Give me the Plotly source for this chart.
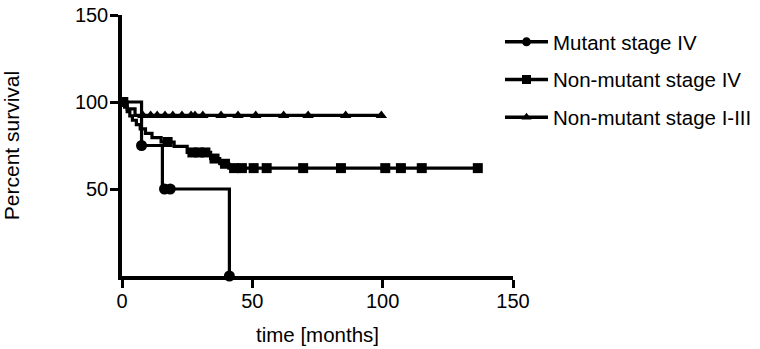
import plotly.graph_objects as go

# ---- data ----
series_names = ["Mutant stage IV", "Non-mutant stage IV", "Non-mutant stage I-III"]

# Mutant stage IV (step curve + censor marks)
mut_t = [0, 7.5, 15.5, 41.2]
mut_s = [100, 75, 50, 0]
mut_cens_t = [7.5, 16.3, 18.5, 41.2]
mut_cens_s = [75, 50, 50, 0]

# Non-mutant stage IV
nm4_t = [0, 1, 2, 3, 4, 5.5, 7, 9, 11.5, 15, 20, 25, 34, 37.5, 41, 137]
nm4_s = [100, 97, 94.5, 92, 89.5, 87, 84.5, 82, 79.5, 77, 74.5, 71, 67.5, 64.5, 62, 62]
nm4_cens_t = [0.5, 17.5, 27, 29.5, 32, 35.5, 39.5, 43, 46, 50.5, 55.5, 69.5, 84, 101, 107, 115, 136.5]
nm4_cens_s = [100, 77, 71, 71, 71, 67.5, 64.5, 62, 62, 62, 62, 62, 62, 62, 62, 62, 62]

# Non-mutant stage I-III
nm13_t = [0, 2, 5, 99.5]
nm13_s = [100, 96, 92.3, 92.3]
nm13_cens_t = [8, 11, 13.5, 16.5, 19.5, 23, 26.5, 28, 31, 38, 44.5, 51.3, 62, 71.4, 85.8, 99.5]
nm13_cens_s = [92.3] * 16

x_ticks = [0, 50, 100, 150]
y_ticks = [50, 100, 150]

FONT = "Arial, Liberation Sans, Helvetica, sans-serif"
BLACK = "#000000"

W, H = 760, 349

fig = go.Figure()

curves = [
    (mut_t, mut_s, mut_cens_t, mut_cens_s, "circle", 11),
    (nm4_t, nm4_s, nm4_cens_t, nm4_cens_s, "square", 10),
    (nm13_t, nm13_s, nm13_cens_t, nm13_cens_s, "triangle-up", 10),
]

for i, (t, s, ct, cs, sym, sz) in enumerate(curves):
    fig.add_trace(go.Scatter(
        x=t, y=s, mode="lines", line=dict(color=BLACK, width=3.2, shape="hv"),
        showlegend=False, cliponaxis=False, hoverinfo="skip"))
    fig.add_trace(go.Scatter(
        x=ct, y=cs, mode="markers", marker=dict(color=BLACK, symbol=sym, size=sz),
        showlegend=False, cliponaxis=False))
    # legend entry
    fig.add_trace(go.Scatter(
        x=[None], y=[None], mode="lines+markers", name=series_names[i],
        legendgroup=f"g{i}",
        line=dict(color=BLACK, width=3.5),
        marker=dict(color=BLACK, symbol=sym, size=9)))

fig.update_layout(
    width=W, height=H,
    margin=dict(l=122, r=247, t=15, b=73, autoexpand=False),
    paper_bgcolor="white", plot_bgcolor="white",
    font=dict(family=FONT, size=20, color=BLACK),
    legend=dict(x=500 / W, y=1 - 22 / H, xref="container", yref="container",
                xanchor="left", yanchor="top",
                font=dict(size=20.5), tracegroupgap=8,
                bgcolor="rgba(0,0,0,0)", itemwidth=43),
    xaxis=dict(range=[0, 150], tickvals=x_ticks, ticks="outside", ticklen=8,
               tickwidth=3, tickcolor=BLACK, showline=True, linewidth=3.5,
               linecolor=BLACK, showgrid=False, zeroline=False, automargin=False,
               ticklabelstandoff=-4,
               title=dict(text="time [months]", font=dict(size=20.5), standoff=18),
               tickfont=dict(size=20)),
    yaxis=dict(range=[0, 150], tickvals=y_ticks, ticks="outside", ticklen=8,
               tickwidth=3, tickcolor=BLACK, showline=True, linewidth=3.5,
               linecolor=BLACK, showgrid=False, zeroline=False, automargin=False,
               ticklabelstandoff=-2,
               title=dict(text="Percent survival", font=dict(size=21), standoff=51),
               tickfont=dict(size=20)),
)

# remove the default page margin so the 760x349 figure fills the window exactly
fig.write_html("out.html", config={"displayModeBar": False},
               post_script="document.body.style.margin='0';")
